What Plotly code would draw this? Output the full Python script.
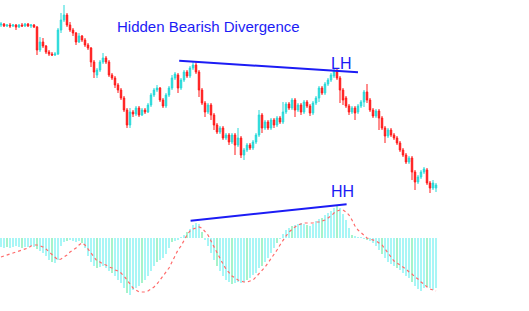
import plotly.graph_objects as go

# ---- price data (candles, arbitrary price points) ----
opens = [275,276,274,275,274,275,273,275,274,276,274,275,273,250,258,254,248,246,245,246,
         270,280,285,275,270,267,258,264,260,255,252,238,225,230,238,242,238,225,222,215,
         210,202,190,175,188,186,192,185,190,188,195,205,210,212,200,194,205,212,222,225,
         212,220,228,224,232,235,228,210,197,188,195,185,175,168,172,162,165,158,165,155,
         162,145,150,155,152,158,165,185,172,178,172,180,175,182,178,188,196,192,200,190,
         195,188,198,194,187,197,202,212,207,216,220,224,229,222,210,202,194,188,192,188,
         194,198,208,200,190,184,189,182,172,164,170,165,162,157,150,145,138,142,128,118,
         123,128,130,117,112,112]
closes = [276,274,275,274,275,273,275,274,276,274,275,273,250,258,254,248,246,245,246,270,
          280,285,275,270,267,258,264,260,255,252,238,228,230,238,242,238,225,222,215,210,
          202,190,175,188,186,192,185,190,188,195,205,210,212,200,194,205,212,222,226,212,
          220,228,224,232,235,228,210,197,188,195,185,175,168,172,162,165,158,165,155,162,
          145,150,155,152,158,165,185,172,178,172,180,175,182,178,188,196,192,200,190,195,
          188,198,194,187,197,202,212,207,216,220,225,229,222,210,200,194,188,192,187,194,
          198,208,200,190,184,189,182,172,164,170,165,162,157,150,145,138,142,128,118,123,
          128,131,117,112,117,115]
highs = [278,277,276,277,276,276,276,277,277,277,276,276,274,263,262,255,250,248,248,272,
         287,295,287,278,272,268,267,265,262,257,253,240,232,240,247,244,240,227,224,217,
         212,204,192,192,190,194,194,192,192,197,207,212,215,213,202,207,214,225,228,227,
         222,230,230,234,238,238,230,212,199,197,197,187,177,174,174,167,167,167,167,172,
         164,152,157,157,160,167,190,187,180,180,182,182,184,184,198,198,198,202,202,197,
         197,200,200,196,199,204,214,214,218,222,227,232,231,224,212,204,196,194,194,196,
         200,210,216,202,192,191,191,184,174,172,172,167,164,159,152,147,144,144,130,125,
         130,133,132,119,120,117]
lows = [273,273,273,272,273,270,272,273,273,273,272,272,245,248,252,246,244,244,244,245,
        267,278,273,268,264,255,257,258,253,250,233,222,222,228,236,236,223,220,212,207,
        200,188,172,172,183,184,183,184,186,187,193,203,208,198,192,192,203,210,220,207,
        210,218,222,222,230,226,203,195,183,186,180,170,166,166,160,160,155,156,145,153,
        142,140,148,150,150,156,163,167,170,170,170,172,173,176,176,186,190,190,183,188,
        185,186,192,184,185,195,198,205,205,214,218,222,220,197,195,192,185,186,180,186,
        192,193,197,188,182,182,170,170,157,162,163,160,155,148,143,136,136,120,110,116,
        121,126,115,107,110,108]

# ---- MACD-style oscillator ----
histogram = [-9,-10,-9,-10,-9,-8,-9,-10,-9,-9,-8,-9,-11,-13,-15,-18,-22,-24,-25,-22,
             -8,-4,-3,-2,-3,-4,-3,-5,-10,-18,-24,-28,-30,-29,-28,-30,-33,-35,-38,-42,
             -45,-50,-55,-57,-52,-50,-48,-45,-42,-38,-33,-28,-24,-22,-20,-16,-10,-4,-3,-2,
             1,3,6,9,13,15,14,6,-2,-8,-15,-22,-28,-33,-38,-42,-44,-46,-45,-44,
             -45,-44,-42,-40,-37,-35,-30,-28,-24,-20,-15,-10,-5,-1,4,8,10,12,13,14,
             15,14,13,12,14,17,19,20,23,25,27,30,32,30,24,18,10,3,2,1,
             0.5,-1,-2,-3,-5,-8,-12,-16,-20,-24,-26,-28,-30,-32,-35,-38,-40,-44,-48,-51,
             -53,-50,-49,-50,-52,-50]
signal = [-19,-18,-17,-16,-15,-14,-13,-12,-11,-10,-8,-7,-7,-8,-9,-11,-14,-17,-20,-22,
          -21,-19,-17,-14,-12,-10,-7,-5,-7,-11,-16,-20,-23,-24,-26,-27,-29,-30,-32,-33,
          -35,-38,-42,-46,-50,-52,-54,-54,-54,-53,-51,-49,-46,-42,-38,-35,-30,-24,-18,-12,
          -8,-2,3,7,9,10,11,10,7,3,-3,-9,-15,-21,-26,-31,-35,-38,-40,-42,
          -43,-44,-44,-43,-42,-39,-36,-33,-29,-25,-21,-17,-12,-7,-2,2,6,9,11,13,
          14,15,15,15,15,16,16,17,18,20,22,25,27,28,28,26,23,18,12,8,
          5,2,0,-1,-2,-3,-5,-7,-11,-15,-19,-23,-25,-27,-29,-31,-34,-36,-39,-41,
          -44,-46,-49,-51,-52,-53]

# trend lines (start/end in data units) and labels
price_line_x = [59.4, 119.0]
price_line_y = [239.3, 227.7]
osc_line_x = [63.2, 115.2]
osc_line_y = [17.3, 33.7]

n = len(closes)
idx = list(range(n))

BLUE = "#1c1cf5"
bar_colors = ["#a6f3c9" if k % 5 == 2 else "#a8f6f6" for k in idx]

fig = go.Figure()
fig.add_trace(go.Bar(
    x=idx, y=histogram, yaxis="y2", width=0.34,
    marker=dict(color=bar_colors, line=dict(width=0)), showlegend=False,
))
fig.add_trace(go.Scatter(
    x=idx, y=signal, yaxis="y2", mode="lines",
    line=dict(color="#ff6b6b", width=1.2, dash="dot"), showlegend=False,
))
fig.add_trace(go.Candlestick(
    x=idx, open=opens, high=highs, low=lows, close=closes,
    increasing=dict(line=dict(color="#26d9d9", width=1), fillcolor="#26d9d9"),
    decreasing=dict(line=dict(color="#ff1a1a", width=1), fillcolor="#ff1a1a"),
    whiskerwidth=0, showlegend=False,
))

fig.add_shape(type="line", xref="x", yref="y",
              x0=price_line_x[0], y0=price_line_y[0], x1=price_line_x[1], y1=price_line_y[1],
              line=dict(color=BLUE, width=2))
fig.add_shape(type="line", xref="x", yref="y2",
              x0=osc_line_x[0], y0=osc_line_y[0], x1=osc_line_x[1], y1=osc_line_y[1],
              line=dict(color=BLUE, width=2))

fig.add_annotation(x=69.3, y=274, xref="x", yref="y", text="Hidden Bearish Divergence",
                   showarrow=False, font=dict(family="Liberation Sans, Arial", size=15, color=BLUE))
fig.add_annotation(x=113.3, y=237, xref="x", yref="y", text="LH",
                   showarrow=False, font=dict(family="Liberation Sans, Arial", size=16, color=BLUE))
fig.add_annotation(x=113.7, y=46.5, xref="x", yref="y2", text="HH",
                   showarrow=False, font=dict(family="Liberation Sans, Arial", size=16, color=BLUE))

axis_off = dict(visible=False, showgrid=False, zeroline=False, fixedrange=True)
fig.update_layout(
    width=529, height=311,
    margin=dict(l=0, r=0, t=0, b=0),
    paper_bgcolor="white", plot_bgcolor="white",
    bargap=0,
    xaxis=dict(range=[-1/3, 176], rangeslider=dict(visible=False), **axis_off),
    yaxis=dict(range=[-11, 300], **axis_off),
    yaxis2=dict(range=[-73, 238], overlaying="y", **axis_off),
    showlegend=False,
)

fig.write_html("out.html")
